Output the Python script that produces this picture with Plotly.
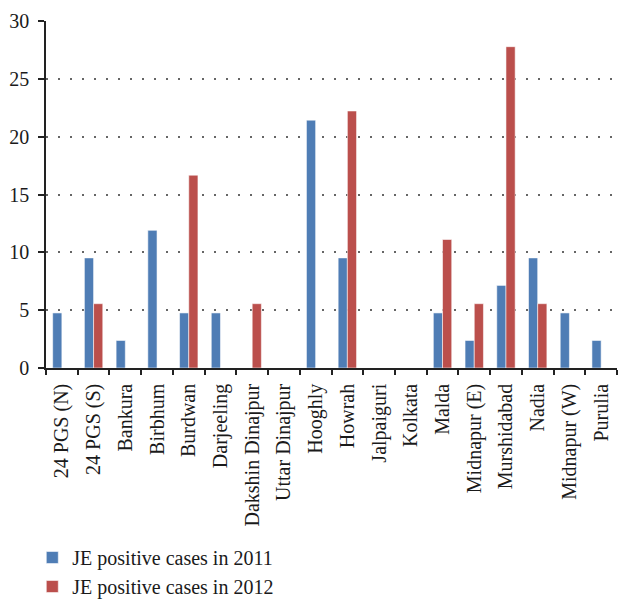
import plotly.graph_objects as go

districts = ["24 PGS (N)", "24 PGS (S)", "Bankura", "Birbhum", "Burdwan", "Darjeeling",
             "Dakshin Dinajpur", "Uttar Dinajpur", "Hooghly", "Howrah", "Jalpaiguri", "Kolkata",
             "Malda", "Midnapur (E)", "Murshidabad", "Nadia", "Midnapur (W)", "Purulia"]
cases_2011 = [4.76, 9.52, 2.38, 11.9, 4.76, 4.76, 0, 0, 21.43, 9.52, 0, 0,
              4.76, 2.38, 7.14, 9.52, 4.76, 2.38]
cases_2012 = [0, 5.56, 0, 0, 16.67, 0, 5.56, 0, 0, 22.22, 0, 0,
              11.11, 5.56, 27.78, 5.56, 0, 0]
y_ticks = [0, 5, 10, 15, 20, 25, 30]

font = dict(family="Liberation Serif, DejaVu Serif, serif", size=20, color="#1a1a1a")

fig = go.Figure()
fig.add_bar(x=districts, y=cases_2011, name="JE positive cases in 2011",
            marker=dict(color="#4F7DB5", line=dict(color="rgba(255,255,255,0.55)", width=1)))
fig.add_bar(x=districts, y=cases_2012, name="JE positive cases in 2012",
            marker=dict(color="#BB4F4C", line=dict(color="rgba(255,255,255,0.55)", width=1)))

# figure slightly taller than the window so the legend never pushes the margins
fig.update_layout(
    width=619, height=630,
    margin=dict(l=46, r=2, t=21, b=262),
    plot_bgcolor="white", paper_bgcolor="white",
    font=font,
    barmode="group", bargap=0.42, bargroupgap=0,
    showlegend=True,
    legend=dict(x=-0.024, y=-0.49, xanchor="left", yanchor="top", orientation="v",
                font=font, bgcolor="rgba(0,0,0,0)", tracegroupgap=0, itemwidth=30),
)
fig.update_xaxes(
    type="category", range=[-0.5, len(districts) - 0.5],
    tickson="boundaries", ticks="outside", ticklen=5, tickwidth=1.5,
    tickcolor="#222", tickangle=-90, showline=True, linecolor="#222", linewidth=1.5,
    showgrid=False, tickfont=font, automargin=False, ticklabeloverflow="allow",
    ticklabelstandoff=6,
)
fig.update_yaxes(
    range=[0, 30], tickvals=y_ticks, ticks="outside", ticklen=6, tickwidth=1.5,
    tickcolor="#222", showline=True, linecolor="#222", linewidth=1.5,
    showgrid=True, gridcolor="#666", griddash="1.5px,10.5px", gridwidth=1.5,
    zeroline=False, tickfont=font, automargin=False, ticklabelstandoff=5,
)

fig.write_html(
    "out.html", config={"displayModeBar": False},
    post_script="document.body.style.margin='0';document.body.style.overflow='hidden';"
                "document.documentElement.style.overflow='hidden';",
)
